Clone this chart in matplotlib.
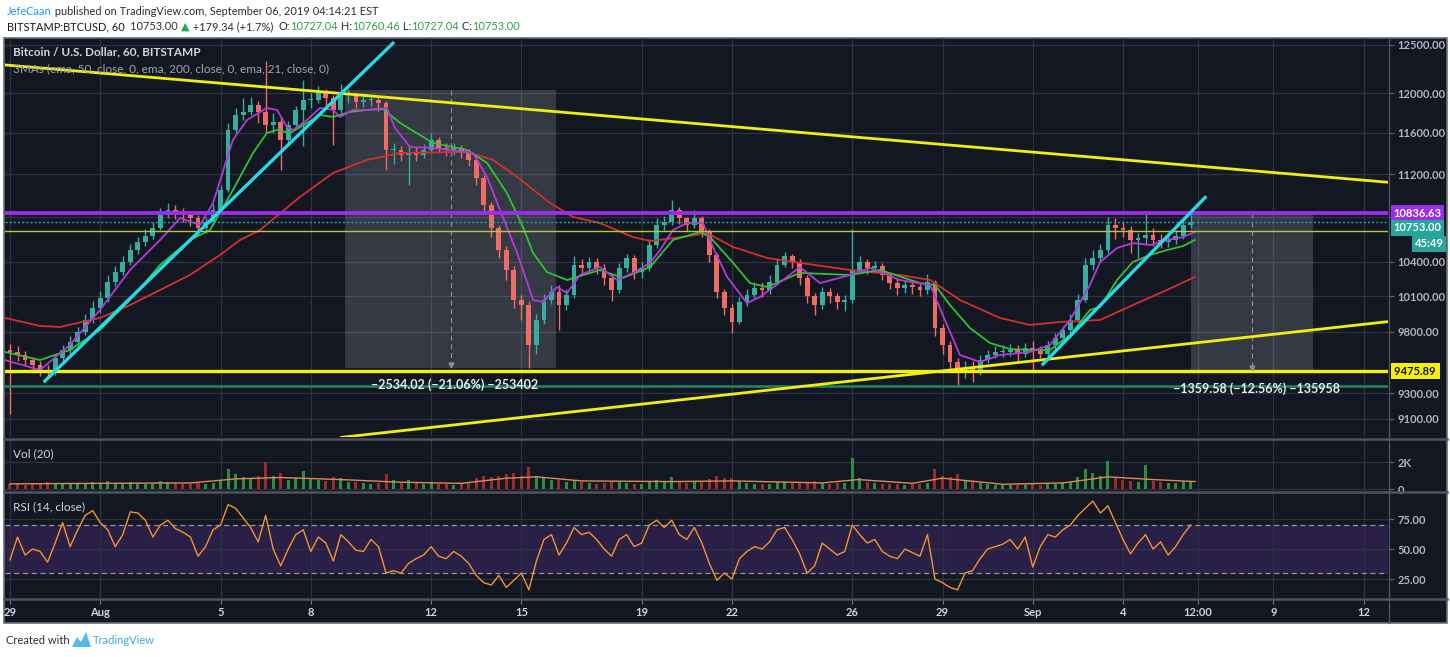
import numpy as np
import matplotlib
matplotlib.use("Agg")
import matplotlib.pyplot as plt
from matplotlib.patches import Rectangle, Polygon
from matplotlib.lines import Line2D
from matplotlib.ticker import NullLocator

FAM = ['Lato', 'DejaVu Sans']
plt.rcParams['font.family'] = FAM

# ---------------- data (t = days since 2019-07-29 00:00, 6-hour candles) ----------------
BAR_DAYS = 0.25
OPEN_FIRST = 9650

CLOSE = [
    9633, 9608, 9567, 9527, 9486, 9470, 9583, 9649, 9715, 9797,
    9898, 9999, 10084, 10222, 10309, 10397, 10503, 10575, 10629, 10701,
    10820, 10866, 10838, 10820, 10792, 10701, 10756, 10866, 11052, 11630,
    11779, 11809, 11879, 11809, 11679, 11709, 11532, 11679, 11829, 11930,
    11930, 12011, 11950, 11829, 11981, 11981, 11910, 11930, 11930, 11900,
    11434, 11434, 11386, 11415, 11386, 11434, 11532, 11454, 11434, 11454,
    11415, 11338, 11165, 10912, 10701, 10503, 10327, 10067, 10024, 9690,
    9898, 10067, 10136, 10024, 10110, 10371, 10345, 10397, 10345, 10257,
    10153, 10345, 10433, 10309, 10345, 10548, 10729, 10756, 10866, 10792,
    10729, 10792, 10665, 10459, 10136, 9999, 9881, 10050, 10110, 10170,
    10153, 10222, 10371, 10450, 10397, 10257, 10101, 10024, 10136, 10101,
    10050, 10067, 10327, 10397, 10345, 10362, 10283, 10213, 10170, 10196,
    10179, 10153, 10222, 9831, 9690, 9551, 9470, 9502, 9486, 9567,
    9608, 9633, 9633, 9649, 9616, 9666, 9641, 9616, 9690, 9747,
    9814, 9898, 10067, 10371, 10433, 10503, 10729, 10701, 10683, 10593,
    10611, 10638, 10593, 10575, 10593, 10629, 10729, 10753]

HIGH = [
    9700, 9680, 9640, 9590, 9560, 9530, 9620, 9690, 9760, 9840,
    9950, 10060, 10140, 10280, 10360, 10450, 10560, 10620, 10690, 10760,
    10880, 10930, 10910, 10880, 10860, 10820, 10800, 10920, 11100, 11700,
    11850, 11950, 11960, 11920, 12330, 11800, 11760, 11720, 11870, 12130,
    12000, 12070, 12040, 11980, 12090, 12040, 12000, 11990, 11990, 11960,
    11920, 11500, 11470, 11470, 11460, 11490, 11600, 11560, 11500, 11500,
    11480, 11440, 11360, 11190, 10940, 10730, 10540, 10360, 10110, 10060,
    9950, 10120, 10200, 10200, 10160, 10450, 10420, 10440, 10430, 10380,
    10290, 10390, 10470, 10460, 10400, 10600, 10790, 10810, 10960, 10890,
    10800, 10870, 10810, 10690, 10480, 10160, 10030, 10090, 10160, 10220,
    10220, 10280, 10420, 10490, 10470, 10420, 10280, 10130, 10180, 10170,
    10130, 10110, 10690, 10450, 10420, 10410, 10390, 10310, 10250, 10240,
    10240, 10210, 10290, 10240, 9860, 9720, 9580, 9560, 9560, 9610,
    9650, 9680, 9690, 9700, 9690, 9710, 9720, 9680, 9720, 9790,
    9850, 9950, 10120, 10430, 10500, 10560, 10800, 10790, 10760, 10720,
    10660, 10830, 10700, 10650, 10650, 10680, 10780, 10830]

LOW = [
    9140, 9560, 9520, 9480, 9440, 9420, 9450, 9560, 9620, 9690,
    9770, 9870, 9960, 10050, 10190, 10280, 10370, 10470, 10540, 10600,
    10680, 10790, 10780, 10760, 10720, 10640, 10660, 10730, 10840, 11030,
    11600, 11730, 11780, 11700, 11600, 11600, 11240, 11500, 11650, 11470,
    11850, 11900, 11860, 11480, 11800, 11900, 11850, 11860, 11870, 11820,
    11240, 11300, 11330, 11100, 11330, 11360, 11400, 11400, 11380, 11390,
    11360, 11280, 11100, 10850, 10620, 10430, 10240, 10000, 9900, 9500,
    9620, 9860, 10030, 9810, 9980, 10080, 10290, 10320, 10290, 10200,
    10060, 10130, 10310, 10250, 10260, 10320, 10520, 10680, 10730, 10740,
    10670, 10700, 10620, 10400, 10080, 9940, 9790, 9860, 10020, 10080,
    10090, 10120, 10200, 10350, 10340, 10200, 10040, 9940, 9990, 10040,
    9990, 9970, 10040, 10300, 10290, 10300, 10240, 10160, 10110, 10130,
    10120, 10100, 10120, 9760, 9620, 9480, 9370, 9420, 9390, 9450,
    9540, 9580, 9590, 9600, 9560, 9590, 9470, 9580, 9590, 9660,
    9720, 9790, 9880, 10050, 10330, 10400, 10480, 10600, 10620, 10480,
    10430, 10560, 10540, 10520, 10530, 10560, 10600, 10700]

VOLUME = [
    350, 420, 300, 380, 450, 500, 420, 380, 400, 360,
    450, 520, 480, 600, 420, 380, 550, 450, 400, 380,
    600, 500, 420, 350, 400, 480, 380, 420, 700, 1500,
    1100, 900, 800, 950, 2000, 1000, 1200, 700, 800, 1300,
    750, 650, 600, 900, 800, 550, 500, 450, 400, 480,
    1100, 700, 550, 650, 450, 400, 500, 380, 350, 320,
    360, 450, 800, 950, 900, 1000, 1100, 1200, 1000, 1600,
    1000, 800, 650, 700, 500, 650, 500, 450, 400, 420,
    500, 550, 450, 400, 380, 600, 700, 500, 900, 550,
    450, 600, 500, 750, 1000, 800, 850, 600, 450, 400,
    380, 400, 550, 500, 420, 450, 500, 600, 480, 400,
    420, 450, 2300, 800, 500, 420, 380, 400, 350, 330,
    350, 380, 450, 1500, 1000, 900, 1100, 700, 600, 450,
    380, 300, 280, 260, 300, 280, 450, 320, 350, 400,
    500, 550, 900, 1500, 1200, 1000, 2100, 900, 700, 600,
    550, 1800, 600, 500, 450, 480, 600, 500]

RSI = [
    41, 60, 45, 50, 48, 39, 55, 72, 52, 66,
    78, 82, 72, 66, 52, 62, 81, 80, 74, 60,
    70, 74, 67, 64, 60, 44, 52, 66, 70, 87,
    84, 76, 68, 56, 78, 50, 36, 50, 62, 66,
    48, 60, 55, 40, 62, 56, 49, 48, 58, 52,
    30, 32, 30, 38, 42, 45, 52, 44, 42, 48,
    44, 38, 28, 22, 20, 28, 18, 24, 30, 16,
    40, 58, 62, 45, 55, 68, 62, 64, 58, 50,
    44, 58, 62, 52, 55, 70, 74, 68, 74, 62,
    58, 68, 55, 38, 24, 30, 25, 42, 48, 52,
    50, 56, 66, 68, 58, 46, 30, 36, 55, 50,
    45, 48, 70, 62, 55, 58, 48, 44, 42, 50,
    47, 44, 62, 25, 22, 18, 16, 30, 32, 42,
    50, 52, 54, 58, 50, 60, 35, 52, 62, 60,
    66, 70, 78, 84, 90, 80, 86, 72, 58, 46,
    55, 62, 50, 56, 45, 52, 62, 70]

VOL_MA_T = [0, 3, 6, 7.5, 9, 11, 13, 15, 16.5, 17.5, 19, 22, 24, 27, 28.2, 30, 31, 33, 35, 36.5, 38, 39.4]
VOL_MA = [380, 420, 450, 750, 850, 700, 500, 420, 800, 900, 600, 550, 600, 450, 700, 420, 800, 350, 450, 900, 700, 550]

EMA21_T = [-0.17, 1.0, 1.99, 2.99, 3.99, 4.99, 5.65, 6.32, 6.75, 7.41,
           7.88, 8.54, 8.88, 9.21, 9.41, 9.87, 10.31, 10.74, 10.97, 11.40,
           11.87, 12.53, 12.80, 13.30, 14.06, 15.39, 15.86, 16.29, 16.86, 17.39,
           17.72, 18.18, 18.52, 18.95, 19.61, 20.18, 20.71, 21.28, 21.61, 22.04,
           22.51, 23.04, 23.37, 23.84, 24.50, 24.93, 25.70, 26.26, 26.93, 27.93,
           28.59, 29.59, 30.59, 31.08, 31.58, 32.25, 32.91, 33.91, 34.57, 35.24,
           35.90, 36.24, 36.80, 37.33, 37.90, 38.46, 39.00, 39.39]
EMA21_P = [9567, 9486, 9690, 9982, 10327, 10593, 10792, 10729, 10931, 11532,
           11729, 11849, 11829, 11659, 11630, 11729, 11849, 11829, 11759, 11829,
           11829, 11849, 11649, 11463, 11454, 11405, 11175, 10866, 10477, 10067,
           10050, 10179, 10127, 10283, 10353, 10239, 10301, 10389, 10503, 10683,
           10747, 10747, 10530, 10266, 10041, 10093, 10239, 10353, 10213, 10283,
           10345, 10239, 10196, 9898, 9608, 9551, 9608, 9633, 9690, 9898,
           10196, 10397, 10521, 10566, 10548, 10593, 10620, 10665]

EMA50_T = [-0.17, 1.0, 1.99, 2.99, 3.99, 4.99, 5.98, 6.65, 7.41, 8.08,
           8.54, 8.88, 9.31, 9.87, 10.31, 10.74, 11.30, 11.87, 12.40, 12.97,
           14.06, 15.19, 15.86, 16.52, 17.05, 17.39, 17.85, 18.52, 19.61, 20.38,
           21.28, 22.04, 22.94, 23.27, 24.04, 24.60, 25.17, 25.70, 26.26, 27.93,
           28.92, 30.25, 30.75, 31.25, 31.91, 32.58, 33.24, 33.91, 34.57, 35.24,
           35.90, 36.24, 36.80, 37.33, 37.90, 38.46, 39.00, 39.39]
EMA50_P = [9633, 9567, 9649, 9814, 10067, 10371, 10593, 10683, 11052, 11405,
           11600, 11630, 11600, 11699, 11779, 11759, 11809, 11829, 11839, 11699,
           11503, 11434, 11309, 11024, 10711, 10477, 10309, 10239, 10327, 10257,
           10353, 10593, 10665, 10620, 10389, 10213, 10179, 10239, 10301, 10283,
           10327, 10213, 10196, 10024, 9831, 9706, 9657, 9649, 9649, 9772,
           9982, 10007, 10239, 10397, 10459, 10503, 10539, 10593]

EMA200_T = [-0.17, 1.0, 1.66, 2.99, 3.99, 4.99, 5.98, 6.98, 7.65, 8.31,
            9.64, 10.74, 11.87, 12.97, 15.19, 16.06, 16.86, 17.95, 18.72, 19.61,
            20.71, 21.28, 22.37, 23.17, 24.04, 25.17, 26.26, 27.93, 29.59, 30.59,
            31.58, 32.91, 33.91, 34.91, 36.24, 37.33, 38.46, 39.39]
EMA200_P = [9915, 9848, 9839, 9915, 10024, 10153, 10283, 10459, 10593, 10683,
            10987, 11213, 11338, 11405, 11415, 11338, 11175, 10931, 10802, 10747,
            10620, 10584, 10620, 10656, 10530, 10433, 10389, 10327, 10283, 10239,
            10067, 9915, 9856, 9881, 9898, 10024, 10153, 10266]

PRICE_TICKS = [9100, 9300, 9800, 10100, 10400, 10800, 11200, 11600, 12000, 12500]
PRICE_LABELS = ['9100.00', '9300.00', '9800.00', '10100.00', '10400.00', '',
                '11200.00', '11600.00', '12000.00', '12500.00']
VOL_TICKS = [0, 2000]
VOL_LABELS = ['0', '2K']
RSI_TICKS = [25, 50, 75]
RSI_LABELS = ['25.00', '50.00', '75.00']
TIME_TICKS = [0, 3, 7, 10, 14, 17, 21, 24, 28, 31, 34, 37, 39.5, 42, 45]
TIME_LABELS = ['29', 'Aug', '5', '8', '12', '15', '19', '22', '26', '29', 'Sep', '4', '12:00', '9', '12']

RESISTANCE = 10836.63
SUPPORT = 9475.89
LAST_PRICE = 10753.00
LEVEL_GREEN = 9360
LEVEL_LIME = 10670
COUNTDOWN = '45:49'

DESC_T = [-0.17, 45.81]
DESC_P = [12290, 11125]
ASC_T = [10.97, 45.81]
ASC_P = [8958, 9884]
CYAN1_T = [1.16, 12.73]
CYAN1_P = [9398, 12518]
CYAN2_T = [34.34, 39.73]
CYAN2_P = [9534, 10982]

MEAS1_T = [11.14, 18.15]
MEAS1_P = [9500, 12034]
MEAS1_TEXT = '\u22122534.02 (\u221221.06%) \u2212253402'
MEAS2_T = [39.26, 43.32]
MEAS2_P = [9477, 10836.63]
MEAS2_TEXT = '\u22121359.58 (\u221212.56%) \u2212135958'

# ---------------- style ----------------
W, H = 1450, 657
BG = '#131722'
GRID = '#2f3340'
UP = '#35ae9f'
DOWN = '#ef6b66'
LABC = '#b2b5be'
TICKC = '#5d606b'
T_LEFT, T_RIGHT = -0.166, 45.81


def fx(px):
    return px / W


def fy(py):
    return 1 - py / H


fig = plt.figure(figsize=(W / 100, H / 100), dpi=100, facecolor='white')

fig.add_artist(Rectangle((fx(4), fy(623)), fx(1447) - fx(4), fy(38) - fy(623),
                         transform=fig.transFigure, fc=BG, ec='#6a6d78', lw=1.2, zorder=-5))

ax = fig.add_axes([fx(5), fy(437), fx(1388) - fx(5), fy(38) - fy(437)])
axv = fig.add_axes([fx(5), fy(491), fx(1388) - fx(5), fy(440) - fy(491)])
axr = fig.add_axes([fx(5), fy(598), fx(1388) - fx(5), fy(493) - fy(598)])
axt = fig.add_axes([fx(5), fy(622), fx(1388) - fx(5), fy(600) - fy(622)])

ax.set_yscale('log')
ax.set_ylim(8962, 12574)
axv.set_ylim(-148, 3630)
axr.set_ylim(9.2, 96.7)

for a, ticks, labels in ((ax, PRICE_TICKS, PRICE_LABELS), (axv, VOL_TICKS, VOL_LABELS),
                         (axr, RSI_TICKS, RSI_LABELS)):
    a.set_facecolor('none')
    for s in a.spines.values():
        s.set_visible(False)
    a.set_xlim(T_LEFT, T_RIGHT)
    a.set_xticks(TIME_TICKS)
    a.tick_params(axis='x', bottom=False, labelbottom=False)
    a.yaxis.tick_right()
    a.set_yticks(ticks)
    a.set_yticklabels(labels)
    a.yaxis.set_minor_locator(NullLocator())
    a.tick_params(axis='y', which='major', length=4, width=0.8, color=TICKC,
                  labelcolor=LABC, labelsize=8, pad=3)
    for lb in a.get_yticklabels():
        lb.set_fontweight('bold')
    a.grid(True, color=GRID, lw=0.9, zorder=0)
    a.set_axisbelow(True)

axt.set_facecolor('none')
for s in axt.spines.values():
    s.set_visible(False)
axt.set_xlim(T_LEFT, T_RIGHT)
axt.set_ylim(0, 1)
axt.set_yticks([])
axt.set_xticks(TIME_TICKS)
axt.tick_params(axis='x', top=True, bottom=False, labelbottom=False, direction='in',
                length=3, width=0.8, color='#787b86')
for tt, lab in zip(TIME_TICKS, TIME_LABELS):
    axt.text(tt, 0.45, lab, ha='center', va='center', color='#d1d4dc', fontsize=8,
             fontweight='bold', transform=axt.get_xaxis_transform())

# ---------------- candles ----------------
n = len(CLOSE)
t = np.arange(n) * BAR_DAYS
c = np.array(CLOSE, float)
o = np.array([OPEN_FIRST] + CLOSE[:-1], float)
hi = np.array(HIGH, float)
lo = np.array(LOW, float)
up = c >= o
cols = np.where(up, UP, DOWN)

# measurement boxes (behind candles)
for mt, mp in ((MEAS1_T, MEAS1_P), (MEAS2_T, MEAS2_P)):
    ax.add_patch(Rectangle((mt[0], mp[0]), mt[1] - mt[0], mp[1] - mp[0],
                           fc='#b2b5be', alpha=0.22, ec='none', zorder=1))
    mid = (mt[0] + mt[1]) / 2
    ax.plot([mid, mid], [mp[1], mp[0] * 1.004], ls=(0, (4, 3)), color='#8a8d96', lw=0.9, zorder=1.5)

ax.vlines(t, lo, hi, colors=cols, lw=1.0, zorder=3)
body = np.maximum(np.abs(c - o), 6)
ax.bar(t, body, bottom=np.minimum(o, c), width=0.16, color=cols, zorder=4, linewidth=0)

# moving averages
ax.plot(EMA200_T, EMA200_P, color='#d32f2f', lw=1.3, zorder=5)
ax.plot(EMA50_T, EMA50_P, color='#2ec234', lw=1.3, zorder=5)
ax.plot(EMA21_T, EMA21_P, color='#b33ad8', lw=1.3, zorder=5)

# horizontal levels
ax.axhline(LEVEL_GREEN, color='#1f8a5e', lw=1.8, zorder=6)
ax.axhline(LEVEL_LIME, color='#b5c934', lw=1.0, zorder=6)
ax.axhline(LAST_PRICE, color='#26a69a', lw=1.0, ls=(0, (1.5, 1.5)), zorder=6)
ax.axhline(RESISTANCE, color='#9c2ce8', lw=2.8, zorder=6)
ax.axhline(SUPPORT, color='#f5f00a', lw=2.4, zorder=6)

# trend lines
ax.plot(DESC_T, DESC_P, color='#f2ee0f', lw=2.0, zorder=7, solid_capstyle='butt')
ax.plot(ASC_T, ASC_P, color='#f2ee0f', lw=2.0, zorder=7, solid_capstyle='butt')
ax.plot(CYAN1_T, CYAN1_P, color='#27d9e6', lw=2.4, zorder=7)
ax.plot(CYAN2_T, CYAN2_P, color='#27d9e6', lw=2.4, zorder=7)

# measurement arrows + labels
for mt, mp, txt, ty in ((MEAS1_T, MEAS1_P, MEAS1_TEXT, 9368), (MEAS2_T, MEAS2_P, MEAS2_TEXT, 9334)):
    mid = (mt[0] + mt[1]) / 2
    ax.plot([mid], [mp[0] * 1.003], marker='v', ms=3.5, color='#8a8d96', zorder=6.5)
    ax.text(mid + 0.15, ty, txt, ha='center', va='center', color='#e9ebf0', fontsize=9,
            fontweight='bold', zorder=8)

# price-axis labels
ytr = ax.get_yaxis_transform()
ax.annotate('10836.63', xy=(1.0, RESISTANCE), xycoords=ytr, xytext=(4, 0), textcoords='offset points',
            ha='left', va='center', fontsize=8, fontweight='bold', color='white', annotation_clip=False,
            bbox=dict(boxstyle='square,pad=0.22', fc='#9c2ce8', ec='none'), zorder=10)
ax.annotate('10753.00', xy=(1.0, LAST_PRICE), xycoords=ytr, xytext=(4, -4), textcoords='offset points',
            ha='left', va='center', fontsize=8, fontweight='bold', color='white', annotation_clip=False,
            bbox=dict(boxstyle='square,pad=0.22', fc='#26a69a', ec='none'), zorder=10)
ax.annotate(COUNTDOWN, xy=(1.0, LAST_PRICE), xycoords=ytr, xytext=(40, -15.5), textcoords='offset points',
            ha='right', va='center', fontsize=8, fontweight='bold', color='white', annotation_clip=False,
            bbox=dict(boxstyle='square,pad=0.22', fc='#26a69a', ec='none'), zorder=10)
ax.annotate('9475.89 ', xy=(1.0, SUPPORT), xycoords=ytr, xytext=(4, 0), textcoords='offset points',
            ha='left', va='center', fontsize=8, fontweight='bold', color='#131722', annotation_clip=False,
            bbox=dict(boxstyle='square,pad=0.22', fc='#f5f00a', ec='none'), zorder=10)

# pane titles
ax.text(0.006, 0.965, 'Bitcoin / U.S. Dollar, 60, BITSTAMP', transform=ax.transAxes, ha='left', va='center',
        color='#d1d4dc', fontsize=8.5, fontweight='bold', zorder=9)
ax.text(0.006, 0.923, '3MAs (ema, 50, close, 0, ema, 200, close, 0, ema, 21, close, 0)', transform=ax.transAxes,
        ha='left', va='center', color='#a3a6af', fontsize=8.5, zorder=9)
axv.text(0.006, 0.72, 'Vol (20)', transform=axv.transAxes, ha='left', va='center', color='#d1d4dc', fontsize=8.5)
axr.text(0.006, 0.87, 'RSI (14, close)', transform=axr.transAxes, ha='left', va='center', color='#d1d4dc',
         fontsize=8.5)

# ---------------- volume ----------------
vcols = np.where(up, '#2a8f3c', '#9a2c2c')
axv.bar(t, VOLUME, width=0.1, color=vcols, zorder=2, linewidth=0)
axv.plot(VOL_MA_T, VOL_MA, color='#e0885a', lw=1.0, zorder=3)

# ---------------- RSI ----------------
axr.axhspan(30, 70, color='#2a1f47', zorder=0.5)
axr.axhline(70, color='#9598a1', lw=0.9, ls=(0, (4, 3)), zorder=1)
axr.axhline(30, color='#9598a1', lw=0.9, ls=(0, (4, 3)), zorder=1)
axr.plot(t, RSI, color='#f0952f', lw=1.0, zorder=3)

# ---------------- separators ----------------
for yy in (438.5, 491.5, 598.5):
    fig.add_artist(Line2D([fx(4), fx(1447)], [fy(yy), fy(yy)], transform=fig.transFigure,
                          color='#50535e', lw=1.8, zorder=20))
fig.add_artist(Line2D([fx(1388.5), fx(1388.5)], [fy(38), fy(623)], transform=fig.transFigure,
                      color='#50535e', lw=1.0, zorder=20))

# ---------------- header / footer ----------------
renderer = fig.canvas.get_renderer()


def chain(x_px, y_px, segs, size):
    x = x_px
    for s, col in segs:
        tx = fig.text(fx(x), fy(y_px), s, color=col, fontsize=size, ha='left', va='center')
        x += tx.get_window_extent(renderer=renderer).width


DARK = '#2a2e39'
GREEN = '#2ea043'
chain(7, 11.5, [('JefeCaan', '#2196f3'),
                (' published on TradingView.com, September 06, 2019 04:14:21 EST', DARK)], 7.9)
chain(7, 26.5, [('BITSTAMP:BTCUSD, 60  ', '#131722'), ('10753.00 ', DARK), ('\u25b2', GREEN),
                (' +179.34 (+1.7%)  ', DARK), ('O:', DARK), ('10727.04', GREEN), (' H:', DARK),
                ('10760.46', GREEN), (' L:', DARK), ('10727.04', GREEN), (' C:', DARK), ('10753.00', GREEN)], 7.9)

fig.text(fx(6), fy(640), 'Created with', color=DARK, fontsize=8, ha='left', va='center')
fig.add_artist(Polygon([(fx(72), fy(647)), (fx(77), fy(637)), (fx(81), fy(642)), (fx(86), fy(632)),
                        (fx(91), fy(647))], closed=True, transform=fig.transFigure, fc='#55b9ea', ec='none'))
fig.text(fx(93), fy(640), 'TradingView', color='#3aa9e0', fontsize=8, ha='left', va='center')

fig.savefig('out.png', dpi=100, facecolor='white')
